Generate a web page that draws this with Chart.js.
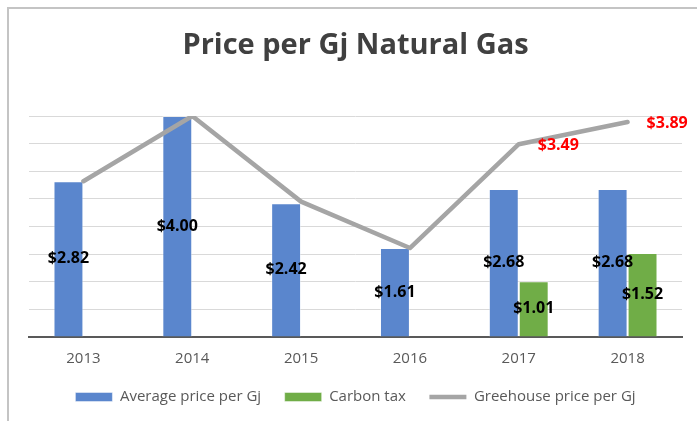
<!DOCTYPE html>
<html>
<head>
<meta charset="utf-8">
<title>Price per Gj Natural Gas</title>
<script src="https://cdn.jsdelivr.net/npm/chart.js@4"></script>
<style>
  html, body { margin: 0; padding: 0; background: #fff; overflow: hidden; }
  #frame {
    position: absolute; left: 7px; top: 7px;
    width: 800px; height: 500px;
    border: 2px solid #c4c4c4;
  }
  #priceChart { position: absolute; left: 0; top: 0; }
</style>
</head>
<body>
<div id="frame"></div>
<canvas id="priceChart" width="697" height="421"></canvas>
<script>
const years = ['2013', '2014', '2015', '2016', '2017', '2018'];
const averagePrice = [2.82, 4.00, 2.42, 1.61, 2.68, 2.68];
const carbonTax = [null, null, null, null, 1.01, 1.52];
const greenhousePrice = [2.82, 4.00, 2.45, 1.61, 3.49, 3.89];
// only the last two greenhouse points carry a value label
const labelledGreenhouse = [false, false, false, false, true, true];

Chart.defaults.font.family = "'Open Sans', sans-serif";
Chart.defaults.color = '#595959';

const money = v => `$${v.toFixed(2)}`;

// value labels: bars get centred black text, line points red text to the right
const valueLabels = {
    id: 'valueLabels',
    afterDatasetsDraw(chart) {
        const ctx = chart.ctx;
        ctx.save();
        ctx.font = "bold 16px 'Open Sans', sans-serif";
        ctx.textBaseline = 'middle';
        chart.data.datasets.forEach((ds, di) => {
            const meta = chart.getDatasetMeta(di);
            meta.data.forEach((el, i) => {
                const v = ds.data[i];
                if (v === null || v === undefined) return;
                if (meta.type === 'bar') {
                    ctx.fillStyle = '#000';
                    ctx.textAlign = 'center';
                    ctx.fillText(money(v), el.x, (el.y + el.base) / 2);
                } else if (labelledGreenhouse[i]) {
                    ctx.fillStyle = '#ff0000';
                    ctx.textAlign = 'left';
                    ctx.fillText(money(v), el.x + 19, el.y + 1);
                }
            });
        });
        ctx.restore();
    }
};

new Chart(document.getElementById('priceChart'), {
    data: {
        labels: years,
        datasets: [
            {
                type: 'bar',
                label: 'Average price per Gj',
                data: averagePrice,
                backgroundColor: '#5a86cd',
                borderColor: 'rgba(255, 255, 255, 0.45)',
                borderWidth: 1,
                pointStyle: 'rect',
                order: 2
            },
            {
                type: 'bar',
                label: 'Carbon tax',
                data: carbonTax,
                backgroundColor: '#70ad47',
                borderColor: 'rgba(255, 255, 255, 0.45)',
                borderWidth: 1,
                pointStyle: 'rect',
                order: 3
            },
            {
                type: 'line',
                label: 'Greehouse price per Gj',
                data: greenhousePrice,
                borderColor: '#a5a5a5',
                backgroundColor: '#a5a5a5',
                borderWidth: 4.5,
                borderCapStyle: 'round',
                borderJoinStyle: 'round',
                pointRadius: 0,
                pointStyle: 'line',
                tension: 0,
                order: 1
            }
        ]
    },
    options: {
        responsive: false,
        animation: false,
        devicePixelRatio: 1,
        layout: { padding: { left: 29, right: 15, top: 0, bottom: 6.5 } },
        datasets: {
            bar: { categoryPercentage: 0.55, barPercentage: 1.0 }
        },
        plugins: {
            title: {
                display: true,
                text: 'Price per Gj Natural Gas',
                color: '#404040',
                font: { size: 29, weight: 'bold' },
                padding: { top: 28, bottom: 53.2 }
            },
            legend: {
                position: 'bottom',
                labels: {
                    usePointStyle: true,
                    pointStyleWidth: 37,
                    boxHeight: 9,
                    padding: 23.5,
                    color: '#595959',
                    font: { size: 15 },
                    sort: (a, b) => a.datasetIndex - b.datasetIndex
                }
            },
            tooltip: { enabled: false }
        },
        scales: {
            x: {
                offset: true,
                grid: { display: false, drawTicks: false },
                border: { display: true, color: '#595959', width: 2 },
                ticks: { padding: 16, color: '#595959', font: { size: 15, lineHeight: 0.8 } },
                // shorter axis band so the legend row sits closer to the labels
                afterFit: scale => { scale.height = 29; }
            },
            y: {
                min: 0,
                max: 4,
                ticks: { display: false, stepSize: 0.5 },
                grid: { color: '#d9d9d9', lineWidth: 1, drawTicks: false },
                border: { display: false }
            }
        }
    },
    plugins: [valueLabels]
});
</script>
</body>
</html>
